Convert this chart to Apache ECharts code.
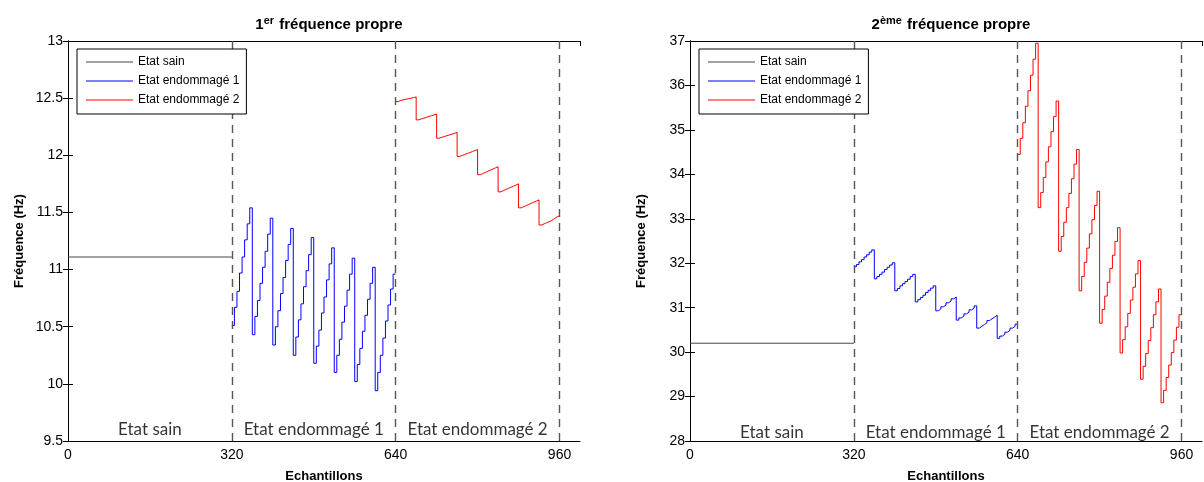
<!DOCTYPE html>
<html><head><meta charset="utf-8">
<script src="https://cdn.jsdelivr.net/npm/echarts@6/dist/echarts.min.js"></script>
<style>html,body{margin:0;padding:0;background:#fff}#c{width:1204px;height:482px}</style>
</head><body><div id="c"></div>
<script>
// ---------- data ----------
const seriesNames = ['Etat sain', 'Etat endommagé 1', 'Etat endommagé 2'];
const zoneLabels = ['Etat sain', 'Etat endommagé 1', 'Etat endommagé 2'];
const zoneCenters = [160, 480, 800];
const zoneBounds = [320, 640, 960];
const zoneStarts = [0, 320, 640];
const samplesPerLevel = 5;
const xTickStep = 320;

// 1st natural frequency (Hz)
const f1Sain = [11.11];
const f1Endo1 = [
  10.51, 10.67, 10.81, 10.97, 11.11, 11.26, 11.40, 11.54,
  10.43, 10.59, 10.73, 10.88, 11.02, 11.16, 11.31, 11.45,
  10.34, 10.50, 10.64, 10.79, 10.93, 11.08, 11.22, 11.36,
  10.25, 10.41, 10.56, 10.70, 10.85, 10.99, 11.13, 11.28,
  10.18, 10.33, 10.47, 10.62, 10.76, 10.91, 11.05, 11.19,
  10.10, 10.25, 10.39, 10.54, 10.68, 10.82, 10.96, 11.10,
  10.02, 10.17, 10.31, 10.46, 10.60, 10.74, 10.88, 11.02,
   9.94, 10.10, 10.25, 10.40, 10.55, 10.69, 10.83, 10.96
];
const f1Endo2 = [
  12.47, 12.48, 12.485, 12.49, 12.495, 12.50, 12.505, 12.51,
  12.31, 12.318, 12.325, 12.332, 12.34, 12.347, 12.353, 12.36,
  12.15, 12.157, 12.164, 12.171, 12.178, 12.185, 12.192, 12.20,
  11.99, 11.998, 12.007, 12.016, 12.024, 12.033, 12.042, 12.05,
  11.83, 11.84, 11.85, 11.86, 11.87, 11.88, 11.89, 11.90,
  11.68, 11.69, 11.70, 11.71, 11.72, 11.73, 11.74, 11.75,
  11.54, 11.55, 11.56, 11.57, 11.58, 11.59, 11.60, 11.61,
  11.39, 11.40, 11.41, 11.42, 11.43, 11.445, 11.46, 11.47
];
const f1YTicks = {min: 9.5, max: 13, step: 0.5};

// 2nd natural frequency (Hz)
const f2Sain = [30.20];
const f2Endo1 = [
  31.92, 31.97, 32.03, 32.08, 32.14, 32.19, 32.25, 32.30,
  31.65, 31.70, 31.75, 31.80, 31.86, 31.91, 31.96, 32.01,
  31.38, 31.43, 31.49, 31.54, 31.59, 31.64, 31.70, 31.75,
  31.13, 31.18, 31.23, 31.28, 31.34, 31.39, 31.44, 31.49,
  30.93, 30.97, 31.02, 31.06, 31.11, 31.15, 31.20, 31.24,
  30.72, 30.77, 30.81, 30.86, 30.90, 30.95, 30.99, 31.04,
  30.54, 30.58, 30.62, 30.66, 30.71, 30.75, 30.79, 30.83,
  30.31, 30.36, 30.40, 30.45, 30.49, 30.54, 30.58, 30.63
];
const f2Endo2 = [
  34.45, 34.81, 35.16, 35.53, 35.88, 36.23, 36.59, 36.95,
  33.25, 33.59, 33.93, 34.28, 34.62, 34.96, 35.30, 35.65,
  32.27, 32.60, 32.92, 33.25, 33.57, 33.90, 34.23, 34.56,
  31.38, 31.70, 32.02, 32.34, 32.66, 32.98, 33.30, 33.62,
  30.65, 30.96, 31.26, 31.57, 31.88, 32.18, 32.49, 32.80,
  29.98, 30.28, 30.57, 30.87, 31.17, 31.46, 31.76, 32.06,
  29.39, 29.68, 29.97, 30.26, 30.55, 30.84, 31.13, 31.42,
  28.86, 29.14, 29.43, 29.71, 29.99, 30.27, 30.56, 30.84
];
const f2YTicks = {min: 28, max: 37, step: 1};

const f1LabelY = 9.6;
const f2LabelY = 28.2;

// ---------- build ----------
const FONT = "'Liberation Sans', Arial, sans-serif";
const colors = ['#444444', '#0000ff', '#ff0000'];

function toSteps(levels, x0, spanEnd) {
  const pts = levels.map((v, i) => [x0 + i * samplesPerLevel, v]);
  const end = spanEnd !== undefined ? spanEnd : x0 + levels.length * samplesPerLevel;
  pts.push([end, levels[levels.length - 1]]);
  return pts;
}

const grids = [
  {left: 68, top: 41, width: 512, height: 400, outerBoundsMode: 'none', containLabel: false},
  {left: 690, top: 41, width: 512, height: 400, outerBoundsMode: 'none', containLabel: false}
];

function xAxes(gi) {
  const base = {
    gridIndex: gi, type: 'value', min: 0, max: 1000, interval: xTickStep,
    axisLine: {show: true, lineStyle: {color: '#000', width: 1}},
    axisTick: {show: true, inside: true, length: 5, lineStyle: {color: '#000'}},
    splitLine: {show: false}
  };
  return [
    Object.assign({}, base, {
      position: 'bottom',
      axisLabel: {show: true, showMaxLabel: false, color: '#000', fontSize: 14, fontFamily: FONT, margin: 7},
      name: 'Echantillons', nameLocation: 'middle', nameGap: 29,
      nameTextStyle: {fontFamily: FONT, fontSize: 13, fontWeight: 'bold', color: '#000'}
    }),
    Object.assign({}, base, {position: 'top', axisLabel: {show: false}})
  ];
}
function yAxes(gi, t) {
  const base = {
    gridIndex: gi, type: 'value', min: t.min, max: t.max, interval: t.step,
    axisLine: {show: true, lineStyle: {color: '#000', width: 1}},
    axisTick: {show: true, inside: true, length: 5, lineStyle: {color: '#000'}},
    splitLine: {show: false}
  };
  return [
    Object.assign({}, base, {
      position: 'left',
      axisLabel: {show: true, color: '#000', fontSize: 14, fontFamily: FONT, margin: 5},
      name: 'Fréquence (Hz)', nameLocation: 'middle', nameGap: 42,
      nameTextStyle: {fontFamily: FONT, fontSize: 13, fontWeight: 'bold', color: '#000'}
    }),
    Object.assign({}, base, {position: 'right', axisLabel: {show: false}})
  ];
}

const xAxis = [...xAxes(0), ...xAxes(1)];
const yAxis = [...yAxes(0, f1YTicks), ...yAxes(1, f2YTicks)];

function lineSeries(name, color, data, xi, yi, extra) {
  return Object.assign({
    type: 'line', name: name, data: data, xAxisIndex: xi, yAxisIndex: yi,
    step: 'end', symbol: 'none', showSymbol: false,
    lineStyle: {color: color, width: 1}, itemStyle: {color: color},
    animation: false, silent: true, z: 3
  }, extra || {});
}
function dividerMark() {
  return {
    silent: true, symbol: ['none', 'none'], label: {show: false},
    lineStyle: {type: [8, 6], color: '#555', width: 1.4},
    data: zoneBounds.map(b => ({xAxis: b})),
    animation: false
  };
}
function zoneSeries(xi, yi, yv) {
  return {
    type: 'scatter', xAxisIndex: xi, yAxisIndex: yi, symbolSize: 1,
    itemStyle: {color: 'rgba(0,0,0,0)'}, silent: true, animation: false,
    data: zoneLabels.map((t, i) => ({value: [zoneCenters[i], yv], name: t})),
    label: {show: true, position: 'inside', formatter: '{b}', color: '#000',
            fontFamily: "Lato, 'Open Sans', sans-serif", fontSize: 17}
  };
}

const series = [
  lineSeries(seriesNames[0], colors[0], toSteps(f1Sain, zoneStarts[0], zoneBounds[0]), 0, 0, {markLine: dividerMark()}),
  lineSeries(seriesNames[1], colors[1], toSteps(f1Endo1, zoneStarts[1]), 0, 0),
  lineSeries(seriesNames[2], colors[2], toSteps(f1Endo2, zoneStarts[2]), 0, 0),
  zoneSeries(0, 0, f1LabelY),
  lineSeries(seriesNames[0], colors[0], toSteps(f2Sain, zoneStarts[0], zoneBounds[0]), 2, 2, {markLine: dividerMark()}),
  lineSeries(seriesNames[1], colors[1], toSteps(f2Endo1, zoneStarts[1]), 2, 2),
  lineSeries(seriesNames[2], colors[2], toSteps(f2Endo2, zoneStarts[2]), 2, 2),
  zoneSeries(2, 2, f2LabelY)
];

function legendAt(left) {
  return {
    data: seriesNames, orient: 'vertical', left: left, top: 49,
    z: 20, zlevel: 0,
    backgroundColor: '#fff', borderColor: '#000', borderWidth: 1,
    padding: [6, 7, 7, 9], itemGap: 5, itemWidth: 47, itemHeight: 1.2,
    icon: 'rect',
    textStyle: {fontFamily: FONT, fontSize: 12, color: '#000', lineHeight: 14},
    selectedMode: false
  };
}

function titleAt(cx, first, sup) {
  return {
    text: '{a|' + first + '}{s|' + sup + '}{a| fréquence propre}',
    left: cx, top: 10, textAlign: 'center',
    textStyle: {
      rich: {
        a: {fontFamily: FONT, fontSize: 15, fontWeight: 'bold', color: '#000'},
        s: {fontFamily: FONT, fontSize: 11, fontWeight: 'bold', color: '#000', padding: [0, 1, 9, 0]}
      }
    }
  };
}

const option = {
  backgroundColor: '#fff',
  animation: false,
  title: [titleAt(324, '1', 'er'), titleAt(946, '2', 'ème')],
  legend: [legendAt(77), legendAt(699)],
  grid: grids,
  xAxis: xAxis,
  yAxis: yAxis,
  series: series
};

const chart = echarts.init(document.getElementById('c'), null, {renderer: 'canvas'});
chart.setOption(option);
</script>
</body></html>
